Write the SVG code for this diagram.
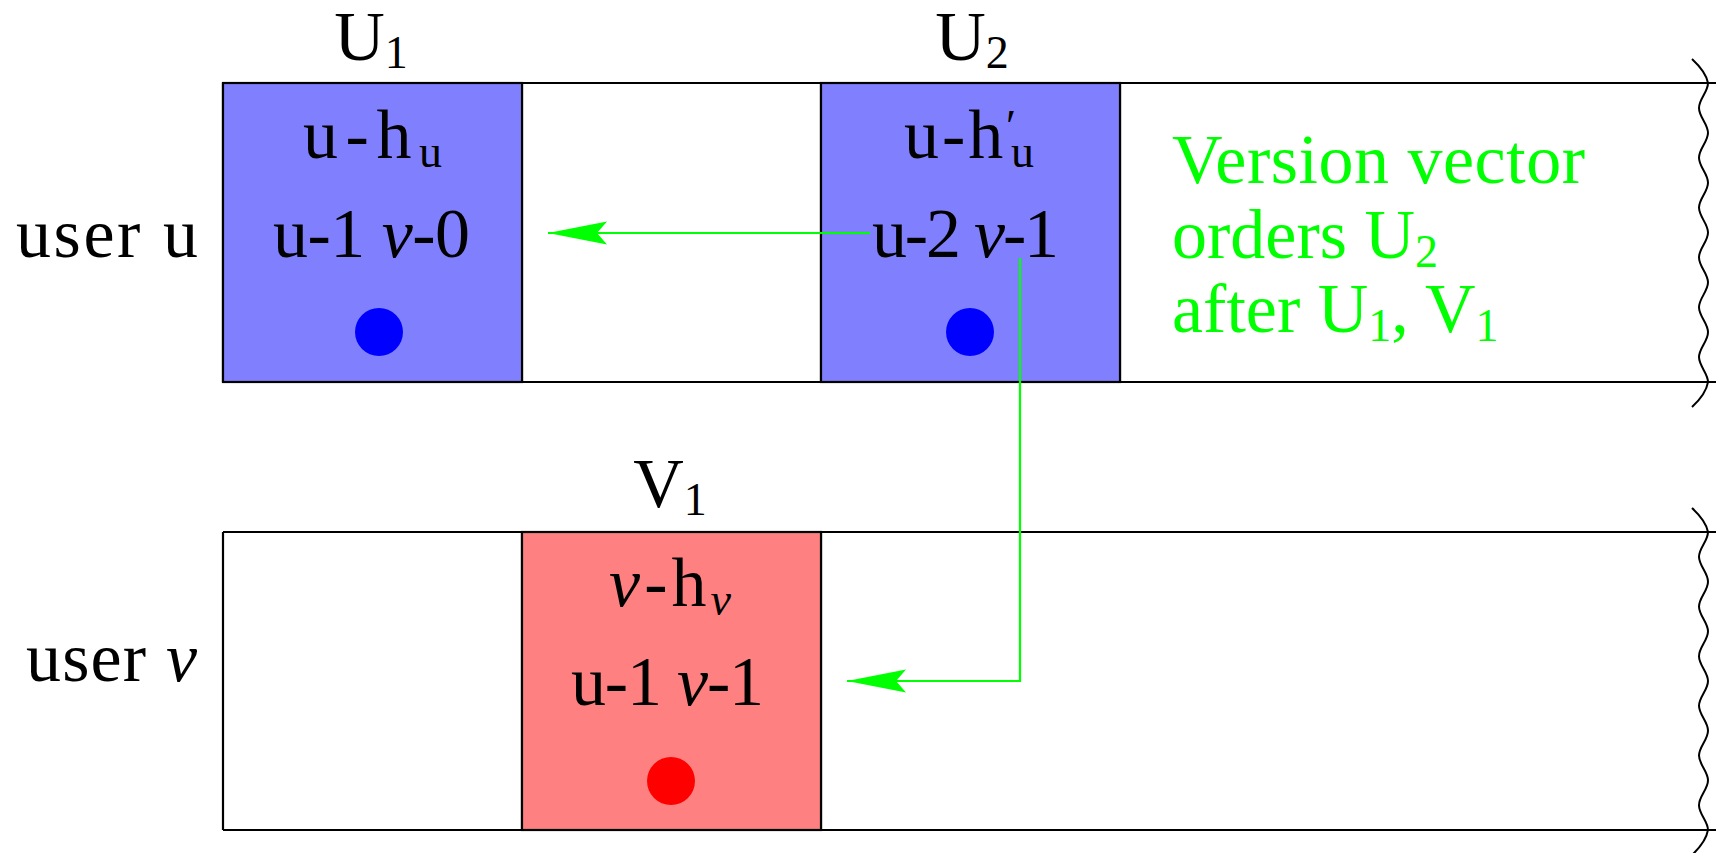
<svg xmlns="http://www.w3.org/2000/svg" width="1716" height="853" viewBox="0 0 1716 853">
  <style>
    .t { font-family: "Liberation Serif", "DejaVu Serif", serif; font-size: 70px; fill: #000; }
    .g { fill: #00ff00; }
    .m { font-style: italic; }
    .sub { font-size: 46px; }
    .lane { stroke: #000; stroke-width: 2.2; fill: none; }
    .wave { stroke: #000; stroke-width: 2; fill: none; }
    .blue { fill: #8080ff; stroke: #000; stroke-width: 2.2; }
    .red { fill: #ff8080; stroke: #000; stroke-width: 2.2; }
    .conn { stroke: #00ff00; stroke-width: 2.2; fill: none; }
  </style>
  <defs>
    <marker id="ah" markerUnits="userSpaceOnUse" viewBox="0 0 60 24" markerWidth="60" markerHeight="24" refX="59" refY="12" orient="auto">
      <path d="M0,0.5 L59,12 L0,23.5 L10,12 Z" fill="#00ff00"/>
    </marker>
  </defs>
  <rect width="1716" height="853" fill="#fff"/>

  <!-- lane of user u -->
  <g id="lane-u">
    <path class="lane" d="M223,83 H1716 M223,382 H1716 M223,83 V382 M522,83 V382 M821,83 V382 M1120,83 V382"/>
    <path class="wave" d="M1692,59 Q1706,72 1708,83
      c0,9 -9,16 -9,24.92 c0,9 9,16 9,24.92 c0,9 -9,16 -9,24.92 c0,9 9,16 9,24.92
      c0,9 -9,16 -9,24.92 c0,9 9,16 9,24.92 c0,9 -9,16 -9,24.92 c0,9 9,16 9,24.92
      c0,9 -9,16 -9,24.92 c0,9 9,16 9,24.92 c0,9 -9,16 -9,24.92 c0,9 9,16 9,24.92
      Q1706,394 1692,407"/>
    <text class="t" x="16" y="257" textLength="182" lengthAdjust="spacing">user <tspan>u</tspan></text>
  </g>

  <!-- lane of user v -->
  <g id="lane-v">
    <path class="lane" d="M223,532 H1716 M223,830 H1716 M223,532 V830 M522,532 V830 M821,532 V830"/>
    <path class="wave" d="M1692,508 Q1706,521 1708,532
      c0,9 -9,16 -9,24.83 c0,9 9,16 9,24.83 c0,9 -9,16 -9,24.83 c0,9 9,16 9,24.83
      c0,9 -9,16 -9,24.83 c0,9 9,16 9,24.83 c0,9 -9,16 -9,24.83 c0,9 9,16 9,24.83
      c0,9 -9,16 -9,24.83 c0,9 9,16 9,24.83 c0,9 -9,16 -9,24.83 c0,9 9,16 9,24.83
      Q1706,842 1692,855"/>
    <text class="t" x="26" y="681" textLength="171" lengthAdjust="spacing">user <tspan class="m">v</tspan></text>
  </g>

  <!-- node U1 -->
  <g id="U1">
    <rect class="blue" x="223" y="83" width="299" height="299"/>
    <text class="t" x="371" y="60" text-anchor="middle">U<tspan class="sub" dy="8">1</tspan></text>
    <text class="t" x="372.5" y="158" text-anchor="middle" textLength="139" lengthAdjust="spacing">u-h<tspan class="sub" dy="9">u</tspan></text>
    <text class="t" x="371.5" y="257" text-anchor="middle" textLength="197" lengthAdjust="spacing">u-1 <tspan class="m">v</tspan>-0</text>
    <circle cx="379" cy="332" r="24" fill="#0000ff"/>
  </g>

  <!-- node U2 -->
  <g id="U2">
    <rect class="blue" x="821" y="83" width="299" height="299"/>
    <text class="t" x="972" y="60" text-anchor="middle">U<tspan class="sub" dy="8">2</tspan></text>
    <text class="t" x="904" y="158" textLength="130" lengthAdjust="spacing">u-h<tspan class="sub" dy="-16">′</tspan><tspan class="sub" dx="-8" dy="25">u</tspan></text>
    <text class="t" x="965.5" y="257" text-anchor="middle" textLength="187" lengthAdjust="spacing">u-2 <tspan class="m">v</tspan>-1</text>
    <circle cx="970" cy="332" r="24" fill="#0000ff"/>
  </g>

  <!-- node V1 -->
  <g id="V1">
    <rect class="red" x="522" y="532" width="299" height="298"/>
    <text class="t" x="670" y="507" text-anchor="middle">V<tspan class="sub" dy="8">1</tspan></text>
    <text class="t" x="670" y="606" text-anchor="middle" textLength="122" lengthAdjust="spacing"><tspan class="m">v</tspan>-h<tspan class="sub m" dy="9">v</tspan></text>
    <text class="t" x="667.5" y="705" text-anchor="middle" textLength="193" lengthAdjust="spacing">u-1 <tspan class="m">v</tspan>-1</text>
    <circle cx="671" cy="781" r="24" fill="#ff0000"/>
  </g>

  <!-- annotation -->
  <g id="note">
    <text class="t g" x="1172" y="183" textLength="413" lengthAdjust="spacing">Version vector</text>
    <text class="t g" x="1172" y="258">orders U<tspan class="sub" dy="9">2</tspan></text>
    <text class="t g" x="1172" y="332">after U<tspan class="sub" dy="9">1</tspan><tspan dy="-9">, V</tspan><tspan class="sub" dy="9">1</tspan></text>
  </g>

  <!-- connectors -->
  <g id="connectors">
    <path class="conn" d="M870,233 H548" marker-end="url(#ah)"/>
    <path class="conn" d="M1020,258 V681 H847" marker-end="url(#ah)"/>
  </g>
</svg>
